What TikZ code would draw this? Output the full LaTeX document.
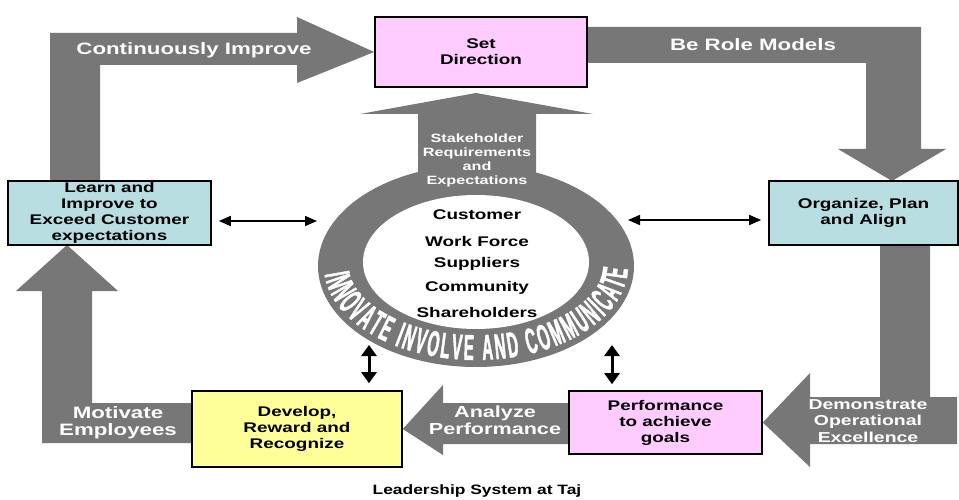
\documentclass[tikz,border=0pt]{standalone}
\usepackage{fontspec}
\setmainfont{Liberation Sans}
\newfontfamily\af[FakeStretch=1.35]{Liberation Sans}
\newfontfamily\tf[FakeStretch=1.28]{Liberation Sans}
\newfontfamily\ringfont[FakeStretch=0.42,FakeBold=1.2]{Liberation Sans}
\usetikzlibrary{shapes.geometric,arrows.meta,decorations.text}
\definecolor{agray}{RGB}{119,119,119}
\definecolor{boxblue}{RGB}{185,222,226}
\definecolor{boxpink}{RGB}{255,204,255}
\definecolor{boxyellow}{RGB}{255,255,153}
\pgfdeclarelayer{bg}
\pgfsetlayers{bg,main}
\begin{document}
\begin{tikzpicture}[x=1pt,y=1pt,
  blockarrow/.style={fill=agray, draw=none},
  stagebox/.style={draw=black, line width=1.6pt, align=center, inner sep=0pt,
    font=\af\bfseries\fontsize{14}{16}\selectfont},
  whitelabel/.style={text=white, align=center, inner sep=0pt,
    font=\af\bfseries\fontsize{16.5}{17}\selectfont},
  listlabel/.style={text=black, inner sep=0pt,
    font=\af\bfseries\fontsize{14}{16}\selectfont},
  hdbl/.style={line width=1.5pt, {Triangle[length=12pt,width=10pt]}-{Triangle[length=12pt,width=10pt]}},
  vdbl/.style={line width=3pt, {Triangle[length=11pt,width=15pt]}-{Triangle[length=11pt,width=15pt]}}
]
\begin{pgfonlayer}{bg}
\fill[white] (0,0) rectangle (959,499);
\end{pgfonlayer}
\useasboundingbox (0,0) rectangle (959,499);

% boxes
\node[stagebox, fill=boxpink, minimum width=212pt, minimum height=70pt] (setdir) at (481,447) {Set\\Direction};
\node[stagebox, fill=boxblue, minimum width=203pt, minimum height=64pt] (learn) at (109.5,286) {Learn and\\Improve to\\Exceed Customer\\expectations};
\node[stagebox, fill=boxblue, minimum width=189pt, minimum height=64pt] (organize) at (863.5,286) {Organize, Plan\\and Align};
\node[stagebox, fill=boxyellow, minimum width=210pt, minimum height=76pt] (develop) at (297,70) {Develop,\\Reward and\\Recognize};
\node[stagebox, fill=boxpink, minimum width=193pt, minimum height=63pt] (perf) at (665.5,76.5) {Performance\\to achieve\\goals};

% big block arrows (behind boxes)
\begin{pgfonlayer}{bg}
\fill[blockarrow] (50,318) -- (50,466) -- (297,466) -- (297,482) -- (setdir.west) -- (297,416) -- (297,434) -- (100,434) -- (100,318) -- cycle;
\fill[blockarrow] (587,472) -- (921,472) -- (921,350) -- (946,350) -- (892,318) -- (838,350) -- (866,350) -- (866,436) -- (587,436) -- cycle;
\fill[blockarrow] (880,254) -- (930,254) -- (930,102) -- (957,102) -- (957,55) -- (810,55) -- (810,32) -- (perf.east) -- (810,126) -- (810,102) -- (880,102) -- cycle;
\fill[blockarrow] (569,96) -- (443,96) -- (443,114) -- (develop.east) -- (443,44) -- (443,55) -- (569,55) -- cycle;
\fill[blockarrow] (192,96) -- (192,56) -- (42,56) -- (42,208) -- (16,208) -- (67,254) -- (118,208) -- (92,208) -- (92,96) -- cycle;
\end{pgfonlayer}

% arrow labels
\node[whitelabel] (lci) at (194,449) {Continuously Improve};
\node[whitelabel] (lbr) at (753,454) {Be Role Models};
\node[whitelabel, font=\af\bfseries\fontsize{14.4}{16.5}\selectfont] (ldo) at (868,78) {Demonstrate\\Operational\\Excellence};
\node[whitelabel, font=\af\bfseries\fontsize{16}{17}\selectfont] (lap) at (495,78.5) {Analyze\\Performance};
\node[whitelabel] (lme) at (118,76.5) {Motivate\\Employees};

% ring
\node[ellipse, fill=agray, minimum width=316pt, minimum height=202pt, inner sep=0pt] (ring) at (476,233) {};
\fill[blockarrow] (418,322) -- (418,385) -- (360,385) -- (476,406) -- (593,385) -- (536,385) -- (536,322) -- cycle;
\node[ellipse, fill=white, minimum width=226pt, minimum height=134pt, inner sep=0pt] (core) at (476,237) {};
\node[text=white, align=center, inner sep=0pt, font=\af\bfseries\fontsize{12}{14}\selectfont] (stake) at (477,339) {Stakeholder\\Requirements\\and\\Expectations};

\node[listlabel] (l1) at (477,284) {Customer};
\node[listlabel] (l2) at (477,258) {Work Force};
\node[listlabel] (l3) at (477,235) {Suppliers};
\node[listlabel] (l4) at (477,211) {Community};
\node[listlabel] (l5) at (477,187) {Shareholders};

\path[decorate, decoration={text along path, text align=fit to path, text color=white,
  text={|\ringfont\bfseries\fontsize{36}{36}\selectfont|INNOVATE INVOLVE AND COMMUNICATE}}]
  (476,233) ++(185:152 and 94) arc[start angle=185, end angle=358, x radius=152, y radius=94];

% double arrows
\coordinate (la) at (317,278);
\coordinate (ra) at (628,279);
\coordinate (lv) at (369,154);
\coordinate (rv) at (612,154);
\draw[hdbl, shorten <=7pt] (learn.east |- la) -- (la);
\draw[hdbl, shorten >=7pt] (ra) -- (organize.west |- ra);
\draw[vdbl, shorten >=7pt] (lv) -- (lv |- develop.north);
\draw[vdbl, shorten >=6pt] (rv) -- (rv |- perf.north);

% title
\node[inner sep=0pt, font=\tf\bfseries\fontsize{13.6}{15}\selectfont] (title) at (477,8) {Leadership System at Taj};
\end{tikzpicture}
\end{document}
